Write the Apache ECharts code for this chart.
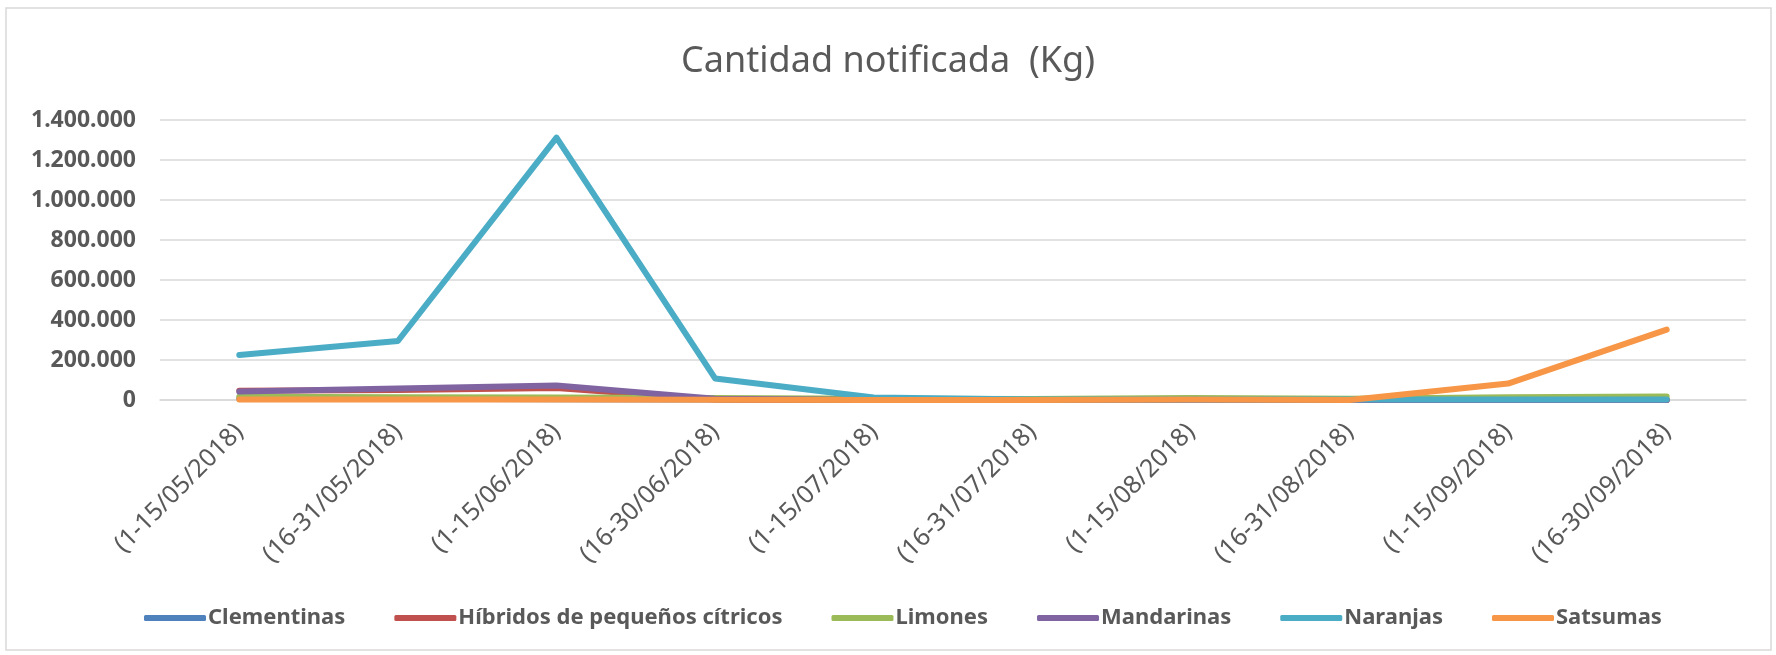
<!DOCTYPE html>
<html>
<head>
<meta charset="utf-8">
<title>Cantidad notificada (Kg)</title>
<script src="https://cdn.jsdelivr.net/npm/echarts@6/dist/echarts.min.js"></script>
<style>
  html, body { margin: 0; padding: 0; background: #fff; }
  #chart { width: 1776px; height: 655px; }
</style>
</head>
<body>
<div id="chart"></div>
<script>
// periods (quincenas)
const periods = [
  "(1-15/05/2018)", "(16-31/05/2018)", "(1-15/06/2018)", "(16-30/06/2018)",
  "(1-15/07/2018)", "(16-31/07/2018)", "(1-15/08/2018)", "(16-31/08/2018)",
  "(1-15/09/2018)", "(16-30/09/2018)"
];

// kg per product
const clementinas = [8000, 6000, 4000, 2000, 0, 0, 0, 0, 0, 0];
const hibridos    = [46000, 50000, 60000, 3000, 0, 0, 0, 0, 0, 0];
const limones     = [16000, 14000, 12000, 10000, 6000, 5000, 10000, 6000, 14000, 17000];
const mandarinas  = [42000, 57000, 72000, 6000, 0, 0, 0, 0, 0, 0];
const naranjas    = [225000, 295000, 1312000, 108000, 12000, 3000, 3000, 2000, 3000, 3000];
const satsumas    = [2000, 2000, 2000, 1000, 0, 0, 2000, 0, 82000, 352000];

const yMin = 0;
const yMax = 1400000;
const yStep = 200000;

const seriesNames = ["Clementinas", "Híbridos de pequeños cítricos", "Limones", "Mandarinas", "Naranjas", "Satsumas"];
const seriesData = [clementinas, hibridos, limones, mandarinas, naranjas, satsumas];
const colors = ["#4F81BD", "#C0504D", "#9BBB59", "#8064A2", "#4BACC6", "#F79646"];

const textColor = "#595959";
const font = "Noto Sans";

// 1400000 -> "1.400.000"
const fmtMiles = (v) => String(v).replace(/\B(?=(\d{3})+(?!\d))/g, ".");

const chart = echarts.init(document.getElementById("chart"));

chart.setOption({
  animation: false,
  color: colors,
  title: {
    text: "Cantidad notificada  (Kg)",
    left: "center",
    top: 39,
    textStyle: { fontFamily: font, fontSize: 36, fontWeight: "normal", color: textColor }
  },
  graphic: [{
    type: "rect",
    shape: { x: 6, y: 8, width: 1765, height: 642 },
    style: { fill: null, stroke: "#D9D9D9", lineWidth: 1.5 },
    silent: true
  }],
  grid: { left: 160, right: 30, top: 120, bottom: 255 },
  legend: {
    top: 602,
    left: 139,
    icon: "roundRect",
    itemWidth: 62,
    itemHeight: 6,
    itemGap: 49,
    textStyle: { fontFamily: font, fontSize: 22, fontWeight: "bold", color: textColor, padding: [0, 0, 0, -3] },
    data: seriesNames
  },
  xAxis: {
    type: "category",
    data: periods,
    boundaryGap: true,
    axisTick: { show: false },
    axisLine: { lineStyle: { color: "#D9D9D9", width: 1.5 } },
    axisLabel: {
      rotate: 45,
      margin: 28,
      interval: 0,
      fontFamily: font,
      fontSize: 25,
      color: textColor
    }
  },
  yAxis: {
    type: "value",
    min: yMin,
    max: yMax,
    interval: yStep,
    axisLine: { show: false },
    axisTick: { show: false },
    splitLine: { lineStyle: { color: "#D9D9D9", width: 1.5 } },
    axisLabel: {
      margin: 24,
      fontFamily: font,
      fontSize: 23,
      fontWeight: "bold",
      color: textColor,
      formatter: fmtMiles
    }
  },
  series: seriesNames.map((name, i) => ({
    name: name,
    type: "line",
    data: seriesData[i],
    symbol: "none",
    lineStyle: { width: 6, cap: "round", join: "round" }
  }))
});
</script>
</body>
</html>
